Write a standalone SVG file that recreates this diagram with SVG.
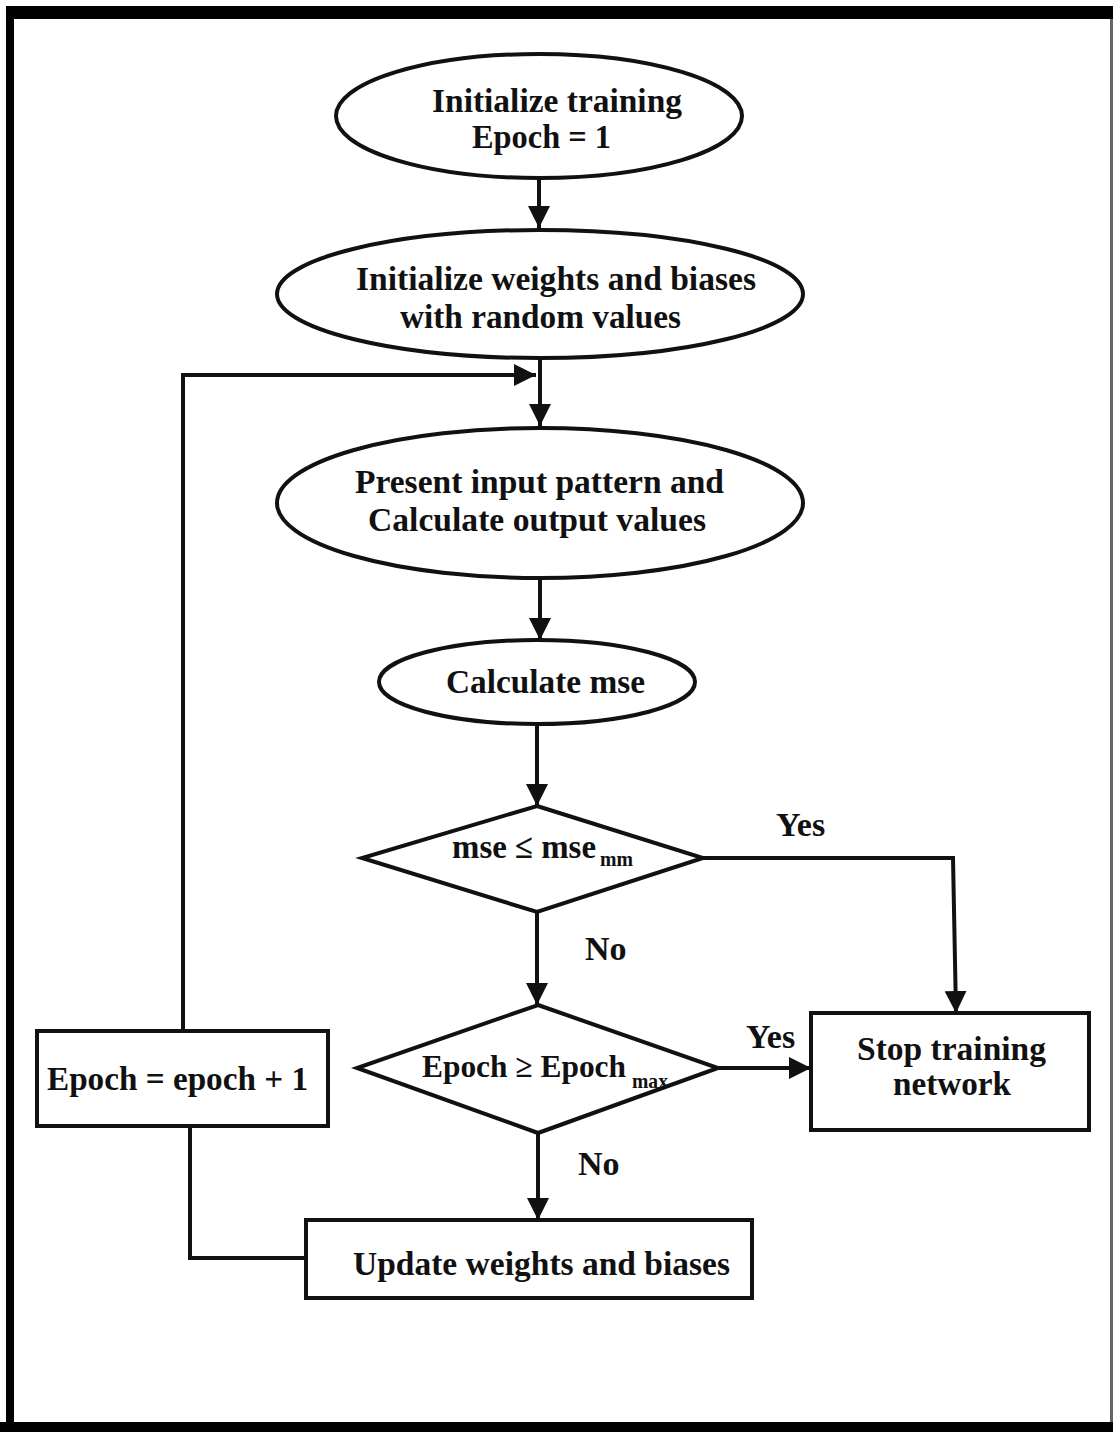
<svg xmlns="http://www.w3.org/2000/svg" width="1113" height="1432" viewBox="0 0 1113 1432">
<style>
.s{fill:#fff;stroke:#111;stroke-width:4}
.c{fill:none;stroke:#111;stroke-width:4}
text{font-family:"Liberation Serif","Times New Roman",serif;font-weight:bold;font-size:34px;fill:#111}
.sub{font-size:22px}
</style>
<defs>
<marker id="a" viewBox="0 0 20 20" refX="20" refY="10" markerWidth="22" markerHeight="22" markerUnits="userSpaceOnUse" orient="auto">
<path d="M0,0 L20,10 L0,20 z" fill="#111"/>
</marker>
</defs>
<rect x="0" y="0" width="1113" height="1432" fill="#fff"/>
<g id="frame">
<rect x="6" y="6" width="1107" height="13" fill="#000"/>
<rect x="6" y="6" width="8" height="1426" fill="#000"/>
<rect x="0" y="1422" width="1113" height="10" fill="#000"/>
<rect x="1110" y="19" width="3" height="1403" fill="#666"/>
</g>
<g id="connectors">
<path class="c" d="M539,178 L539,228" marker-end="url(#a)"/>
<path class="c" d="M540,358 L540,426" marker-end="url(#a)"/>
<path class="c" d="M183,1031 L183,375 L536,375" marker-end="url(#a)"/>
<path class="c" d="M540,578 L540,640" marker-end="url(#a)"/>
<path class="c" d="M537,724 L537,806" marker-end="url(#a)"/>
<path class="c" d="M703,858 L953,858 L956,1013" marker-end="url(#a)"/>
<path class="c" d="M537,912 L537,1005" marker-end="url(#a)"/>
<path class="c" d="M718,1068 L811,1068" marker-end="url(#a)"/>
<path class="c" d="M538,1133 L538,1220" marker-end="url(#a)"/>
<path class="c" d="M306,1258 L190,1258 L190,1126"/>
<text x="776" y="836">Yes</text>
<text x="585" y="960">No</text>
<text x="746" y="1048">Yes</text>
<text x="578" y="1175">No</text>
</g>
<g id="n1">
<ellipse class="s" cx="539" cy="116" rx="203" ry="62"/>
<text x="432" y="112" textLength="250" lengthAdjust="spacingAndGlyphs">Initialize training</text>
<text x="472" y="148" textLength="139" lengthAdjust="spacingAndGlyphs">Epoch = 1</text>
</g>
<g id="n2">
<ellipse class="s" cx="540" cy="294" rx="263" ry="64"/>
<text x="356" y="290" textLength="400" lengthAdjust="spacingAndGlyphs">Initialize weights and biases</text>
<text x="400" y="328" textLength="281" lengthAdjust="spacingAndGlyphs">with random values</text>
</g>
<g id="n3">
<ellipse class="s" cx="540" cy="503" rx="263" ry="75"/>
<text x="355" y="493" textLength="369" lengthAdjust="spacingAndGlyphs">Present input pattern and</text>
<text x="368" y="531" textLength="338" lengthAdjust="spacingAndGlyphs">Calculate output values</text>
</g>
<g id="n4">
<ellipse class="s" cx="537" cy="682" rx="158" ry="42"/>
<text x="446" y="693" textLength="199" lengthAdjust="spacingAndGlyphs">Calculate mse</text>
</g>
<g id="n5">
<path class="s" d="M537,806 L703,858 L537,912 L362,858 z"/>
<text x="452" y="858" textLength="144" lengthAdjust="spacingAndGlyphs">mse ≤ mse</text>
<text class="sub" x="600" y="866" textLength="33" lengthAdjust="spacingAndGlyphs">mm</text>
</g>
<g id="n6">
<path class="s" d="M538,1005 L718,1068 L538,1133 L357,1068 z"/>
<text x="422" y="1077" style="font-size:32px" textLength="204" lengthAdjust="spacingAndGlyphs">Epoch ≥ Epoch</text>
<text class="sub" x="632" y="1088" textLength="36" lengthAdjust="spacingAndGlyphs">max</text>
</g>
<g id="n7">
<rect class="s" x="811" y="1013" width="278" height="117"/>
<text x="857" y="1060" textLength="189" lengthAdjust="spacingAndGlyphs">Stop training</text>
<text x="893" y="1095" textLength="118" lengthAdjust="spacingAndGlyphs">network</text>
</g>
<g id="n8">
<rect class="s" x="37" y="1031" width="291" height="95"/>
<text x="47" y="1090" textLength="261" lengthAdjust="spacingAndGlyphs">Epoch = epoch + 1</text>
</g>
<g id="n9">
<rect class="s" x="306" y="1220" width="446" height="78"/>
<text x="353" y="1275" textLength="377" lengthAdjust="spacingAndGlyphs">Update weights and biases</text>
</g>
</svg>
